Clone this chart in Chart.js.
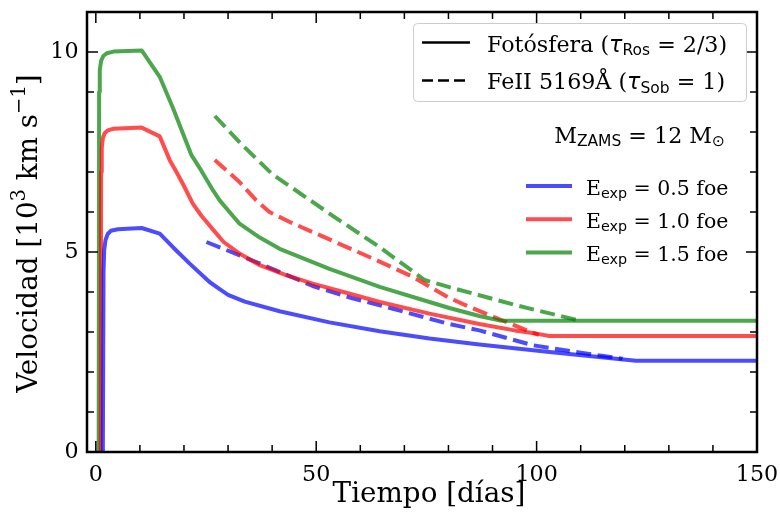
<!DOCTYPE html>
<html>
<head>
<meta charset="utf-8">
<script src="https://cdn.jsdelivr.net/npm/chart.js@4"></script>
<style>
  html, body { margin: 0; padding: 0; background: #fff; }
</style>
</head>
<body>
<canvas id="chart" width="780" height="518"></canvas>
<script>
/* ── Data ───────────────────────────────────────── */
// Photosphere (solid)
const photBlueX  = [1.6, 1.75, 1.9, 2.2, 2.7, 3.4, 5, 10.4, 14.5, 17.5, 21.3, 25.8, 28.1, 30, 33.8, 41.7, 53, 64.4, 75.7, 87, 102.9, 122.5, 150];
const photBlueY  = [0, 4.5, 5.05, 5.3, 5.45, 5.53, 5.57, 5.6, 5.46, 5.12, 4.71, 4.25, 4.07, 3.93, 3.76, 3.52, 3.24, 3.02, 2.84, 2.69, 2.5, 2.28, 2.28];
const photRedX   = [1.1, 1.2, 1.35, 1.6, 2.0, 2.7, 4, 10.4, 14.5, 16.8, 18.3, 20, 22, 24, 26.6, 29, 32.6, 37.2, 43, 49.2, 56.8, 64.4, 75.7, 87, 95, 99.9, 102.9, 150];
const photRedY   = [0, 7.0, 7.6, 7.85, 7.97, 8.04, 8.08, 8.11, 7.89, 7.29, 7.0, 6.65, 6.21, 5.9, 5.56, 5.25, 4.96, 4.67, 4.43, 4.21, 3.98, 3.75, 3.46, 3.2, 3.04, 2.96, 2.9, 2.9];
const photGreenX = [0.65, 0.75, 0.9, 1.2, 1.7, 2.5, 4, 10.4, 14.5, 17.5, 21.7, 23.9, 26.6, 28.1, 31.1, 32.6, 37.2, 41.7, 53, 64.4, 75.7, 80.2, 87, 91.5, 93, 150];
const photGreenY = [0, 9.0, 9.55, 9.78, 9.9, 9.97, 10.01, 10.04, 9.38, 8.6, 7.42, 7.04, 6.54, 6.29, 5.9, 5.71, 5.36, 5.08, 4.58, 4.13, 3.75, 3.6, 3.4, 3.29, 3.28, 3.28];

// FeII 5169 (dashed)
const feBlueX  = [25.1, 36.4, 49.2, 58, 67.4, 80.2, 87, 99.1, 110, 119.5];
const feBlueY  = [5.25, 4.75, 4.15, 3.85, 3.58, 3.2, 3.04, 2.67, 2.48, 2.33];
const feRedX   = [27, 32.6, 36.4, 39.4, 44, 56.8, 64, 71.9, 80.2, 84.7, 92, 99.1, 100.5];
const feRedY   = [7.3, 6.75, 6.29, 6.0, 5.75, 5.13, 4.78, 4.38, 3.85, 3.63, 3.3, 2.98, 2.93];
const feGreenX = [27, 33, 40, 53, 64.4, 74.6, 80.2, 87, 95.3, 109.5];
const feGreenY = [8.4, 7.7, 6.95, 5.96, 5.12, 4.3, 4.12, 3.92, 3.67, 3.29];

const energyLabels = ['0.5', '1.0', '1.5'];

const xMajor = [0, 50, 100, 150];
const xMinor = [10, 20, 30, 40, 60, 70, 80, 90, 110, 120, 130, 140];
const yMajor = [0, 5, 10];
const yMinor = [1, 2, 3, 4, 6, 7, 8, 9];

/* ── Style ──────────────────────────────────────── */
const BLUE  = 'rgba(0,0,255,0.7)';
const RED   = 'rgba(255,0,0,0.7)';
const GREEN = 'rgba(0,128,0,0.7)';
const SERIF = "'DejaVu Serif', serif";
const SANS  = "'DejaVu Sans', sans-serif";

const pts = (xs, ys) => xs.map((x, i) => ({ x, y: ys[i] }));

function line(xs, ys, color, dashed) {
  return {
    data: pts(xs, ys),
    borderColor: color,
    borderWidth: 4,
    borderDash: dashed ? [15, 6.5] : [],
    borderCapStyle: 'butt',
    borderJoinStyle: 'round',
    pointRadius: 0,
    tension: 0,
    fill: false,
  };
}

/* ── Rich text helper (sub/superscripts) ────────── */
function richText(ctx, x, y, parts, align) {
  let w = 0;
  parts.forEach(p => { ctx.font = p[1]; w += ctx.measureText(p[0]).width; });
  let cx = align === 'right' ? x - w : align === 'center' ? x - w / 2 : x;
  parts.forEach(p => {
    ctx.font = p[1];
    ctx.fillText(p[0], cx, y + (p[2] || 0));
    cx += ctx.measureText(p[0]).width;
  });
}

/* ── Frame, inward ticks, titles and legends ────── */
const decor = {
  id: 'decor',
  afterDatasetsDraw(chart) {
    const { ctx, chartArea: a, scales: { x, y } } = chart;
    ctx.save();
    ctx.strokeStyle = '#000';

    ctx.lineWidth = 1.5;
    const tickX = (vals, len) => {
      vals.forEach(v => {
        const px = x.getPixelForValue(v);
        ctx.beginPath();
        ctx.moveTo(px, a.bottom); ctx.lineTo(px, a.bottom - len);
        ctx.moveTo(px, a.top);    ctx.lineTo(px, a.top + len);
        ctx.stroke();
      });
    };
    const tickY = (vals, len) => {
      vals.forEach(v => {
        const py = y.getPixelForValue(v);
        ctx.beginPath();
        ctx.moveTo(a.left, py);  ctx.lineTo(a.left + len, py);
        ctx.moveTo(a.right, py); ctx.lineTo(a.right - len, py);
        ctx.stroke();
      });
    };
    tickX(xMajor, 11); tickX(xMinor, 7);
    tickY(yMajor, 11); tickY(yMinor, 7);

    ctx.lineWidth = 2.5;
    ctx.strokeRect(a.left, a.top, a.right - a.left, a.bottom - a.top);

    ctx.fillStyle = '#000';
    ctx.textBaseline = 'alphabetic';
    const ttl = '27.8px ' + SERIF, sup = '19.5px ' + SERIF;

    // axis titles
    richText(ctx, 429, 501.5, [['Tiempo [días]', ttl]], 'center');
    ctx.save();
    ctx.translate(37, 233.5);
    ctx.rotate(-Math.PI / 2);
    richText(ctx, 0, 0, [['Velocidad [10', ttl], ['3', sup, -12], [' km s', ttl], ['−1', sup, -12], [']', ttl]], 'center');
    ctx.restore();

    // legend box (line styles)
    ctx.fillStyle = 'rgba(255,255,255,0.8)';
    ctx.strokeStyle = '#cccccc';
    ctx.lineWidth = 1;
    ctx.beginPath();
    ctx.roundRect(413.5, 23.5, 333, 78, 4);
    ctx.fill(); ctx.stroke();

    ctx.strokeStyle = '#000';
    ctx.lineWidth = 2.7;
    ctx.beginPath(); ctx.moveTo(422, 42.5); ctx.lineTo(470, 42.5); ctx.stroke();
    ctx.setLineDash([11, 5]);
    ctx.beginPath(); ctx.moveTo(422, 80.5); ctx.lineTo(470, 80.5); ctx.stroke();
    ctx.setLineDash([]);

    ctx.fillStyle = '#000';
    const big = '22.2px ' + SERIF, sub = '15.5px ' + SANS, tau = 'oblique 22.2px ' + SANS;
    richText(ctx, 487, 51.7, [['Fotósfera (', big], ['τ', tau], ['Ros', sub, 3.5], [' = 2/3)', big]]);
    richText(ctx, 487, 89, [['FeII 5169Å (', big], ['τ', tau], ['Sob', sub, 3.5], [' = 1)', big]]);

    richText(ctx, 725, 142.5, [['M', big], ['ZAMS', sub, 3.5], [' = 12 M', big], ['⊙', sub, 3.5]], 'right');

    // energy legend
    const cols = [BLUE, RED, GREEN];
    const eBig = '20.5px ' + SERIF, eSub = '14.3px ' + SANS;
    energyLabels.forEach((lab, i) => {
      const ly = 186 + i * 33.3;
      ctx.strokeStyle = cols[i];
      ctx.lineWidth = 4;
      ctx.beginPath(); ctx.moveTo(526, ly); ctx.lineTo(572, ly); ctx.stroke();
      ctx.fillStyle = '#000';
      richText(ctx, 586, ly + 8.5, [['E', eBig], ['exp', eSub, 3.3], [' = ' + lab + ' foe', eBig]]);
    });
    ctx.restore();
  }
};

/* ── Chart ──────────────────────────────────────── */
const ctx = document.getElementById('chart').getContext('2d');
new Chart(ctx, {
  type: 'line',
  data: {
    datasets: [
      line(photBlueX, photBlueY, BLUE, false),
      line(photRedX, photRedY, RED, false),
      line(photGreenX, photGreenY, GREEN, false),
      line(feBlueX, feBlueY, BLUE, true),
      line(feRedX, feRedY, RED, true),
      line(feGreenX, feGreenY, GREEN, true),
    ]
  },
  options: {
    responsive: false,
    animation: false,
    devicePixelRatio: 1,
    layout: { padding: { left: 0, right: 23, top: 12, bottom: 0 } },
    plugins: { legend: { display: false }, tooltip: { enabled: false } },
    scales: {
      x: {
        type: 'linear', min: -2, max: 150,
        grid: { display: false, drawTicks: false },
        border: { display: false },
        afterBuildTicks: s => { s.ticks = xMajor.map(v => ({ value: v })); },
        afterFit: s => { s.height = 66; s.paddingLeft = 0; s.paddingRight = 0; },
        ticks: { color: '#000', font: { family: SERIF, size: 22.2 }, padding: 10, maxRotation: 0 }
      },
      y: {
        min: 0, max: 11,
        grid: { display: false, drawTicks: false },
        border: { display: false },
        afterBuildTicks: s => { s.ticks = yMajor.map(v => ({ value: v })); },
        afterFit: s => { s.width = 87; s.paddingTop = 0; s.paddingBottom = 0; },
        ticks: { color: '#000', font: { family: SERIF, size: 22.2 }, padding: 8.5 }
      }
    }
  },
  plugins: [decor]
});
</script>
</body>
</html>
